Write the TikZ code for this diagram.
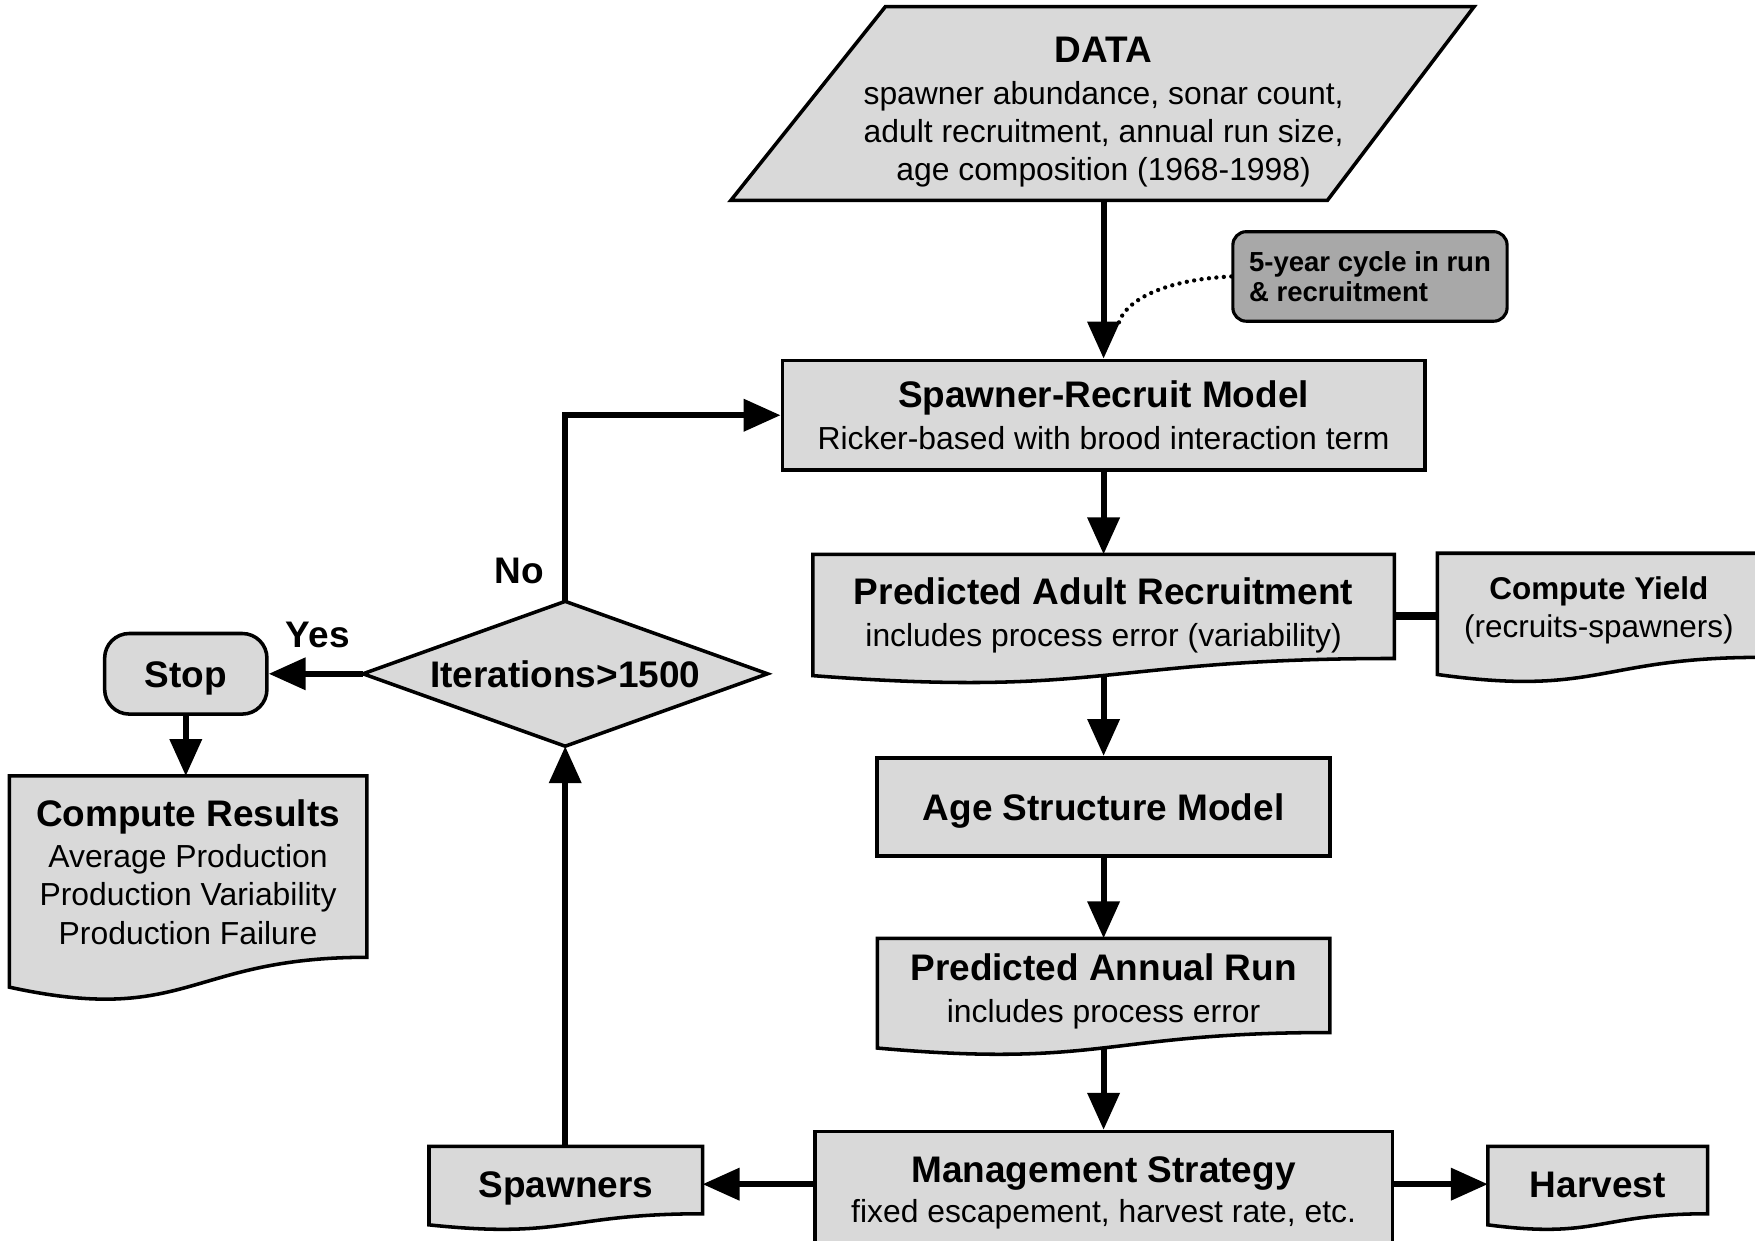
\documentclass[tikz,border=0pt]{standalone}
\usepackage{fontspec}
\setmainfont{Liberation Sans}
\usetikzlibrary{arrows.meta,calc,backgrounds}
\definecolor{boxgray}{gray}{0.85}
\definecolor{notegray}{gray}{0.66}
\newcommand\ttl[1]{{\fontsize{9.4}{10.2}\selectfont\bfseries #1}}
\newcommand\docshape[2]{%
  \draw[boxline] (#1.north west) -- (#1.north east) -- ($(#1.north east)+(0,{0.802*#2})$)
   .. controls ($(#1.north)+(0,{0.802*#2})$) and ($(#1.north)+(0,{1.107*#2})$) .. ($(#1.north west)+(0,{0.934*#2})$) -- cycle;
  \coordinate (#1-bot) at ($(#1.north)+(0,{0.933*#2})$);}
\begin{document}
\begin{tikzpicture}[x=0.1mm,y=-0.1mm,
  font=\fontsize{8.1}{9.7}\selectfont,
  box/.style={draw=black, line width=0.9pt, fill=boxgray, align=center, inner sep=0pt},
  boxline/.style={draw=black, line width=0.9pt, fill=boxgray},
  hold/.style={inner sep=0pt, align=center},
  capcenter/.style={text height=2.4mm, text depth=0pt},
  flow/.style={line width=1.5pt, -{Triangle[length=3.3mm,width=2.8mm]}},
  link/.style={line width=2pt},
  lbl/.style={font=\fontsize{9.4}{10.2}\selectfont\bfseries, inner sep=0pt},
  dots/.style={line width=1.1pt, dash pattern=on 0pt off 1.9pt, line cap=round}]
\path[use as bounding box] (0,0) rectangle (1568,1108);
\clip (0,0) rectangle (1568,1108);

% text holders and boxes
\node[hold] (data) at (986,100) {\ttl{DATA}\\[0.9pt]spawner abundance, sonar count,\\adult recruitment, annual run size,\\age composition (1968-1998)};
\coordinate (databot) at (986,179);
\node[draw, line width=0.8pt, rounded corners=1.2mm, fill=notegray, minimum width=24.5mm, minimum height=8mm, align=left, font=\fontsize{7}{7.7}\selectfont\bfseries, inner sep=0pt] (note) at (1224,247) {5-year cycle in run\\\& recruitment};
\coordinate (noteend) at (999,290);
\node[box, minimum width=57.4mm, minimum height=9.8mm] (sr) at (986,371) {\ttl{Spawner-Recruit Model}\\[0.9pt]Ricker-based with brood interaction term};
\node[hold, minimum width=51.8mm, minimum height=10.8mm] (par) at (986,550) {\ttl{Predicted Adult Recruitment}\\[0.9pt]includes process error (variability)};
\node[hold, minimum width=28.7mm, minimum height=10mm, font=\fontsize{8}{9.6}\selectfont] (cy) at (1428.5,545) {\textbf{Compute Yield}\\(recruits-spawners)};
\node[box, capcenter, minimum width=40.5mm, minimum height=8.8mm] (asm) at (986,721) {\ttl{Age Structure Model}};
\node[hold, minimum width=40.3mm, minimum height=9.4mm] (par2) at (986,886) {\ttl{Predicted Annual Run}\\[0.9pt]includes process error};
\node[box, minimum width=51.6mm, minimum height=11mm] (ms) at (986,1066) {\ttl{Management Strategy}\\[0.6pt]fixed escapement, harvest rate, etc.};
\node[hold, capcenter, minimum width=19.5mm, minimum height=6.6mm] (harv) at (1427.5,1058) {\ttl{Harvest}};
\node[hold, capcenter, minimum width=24.3mm, minimum height=6.6mm] (spw) at (505.5,1058) {\ttl{Spawners}};
\node[hold, minimum width=36mm, minimum height=12.8mm] (dia) at (505,602) {\ttl{Iterations>1500}};
\node[box, capcenter, rounded corners=2.2mm, minimum width=14.5mm, minimum height=7.2mm] (stop) at (166,602) {\ttl{Stop}};
\node[hold, minimum width=31.8mm, minimum height=17mm] (cr) at (168,779) {\ttl{Compute Results}\\[0.9pt]Average Production\\Production Variability\\Production Failure};
\node[lbl] (no) at (464,510) {No};
\node[lbl] (yes) at (284,567) {Yes};

% shapes behind text
\begin{pgfonlayer}{background}
\clip (0,0) rectangle (1568,1108);
\fill[white] (0,0) rectangle (1568,1108);
\draw[boxline] (791,6) -- (1317,6) -- (1186,179) -- (653,179) -- cycle;
\draw[boxline] (dia.north) -- (dia.east) -- (dia.south) -- (dia.west) -- cycle;
\docshape{par}{116}
\docshape{cy}{116}
\docshape{par2}{105}
\docshape{harv}{75}
\docshape{spw}{75}
\docshape{cr}{202}
\end{pgfonlayer}

% connectors
\draw[flow] (databot) -- (sr.north);
\draw[dots] (note.west) .. controls (1040,250) and (1005,268) .. (noteend);
\draw[flow] (sr.south) -- (sr.south |- par.north);
\draw[link] (par.east) -- (par.east -| cy.west);
\draw[flow] (par-bot) -- (par-bot |- asm.north);
\draw[flow] (asm.south) -- (asm.south |- par2.north);
\draw[flow] (par2-bot) -- (par2-bot |- ms.north);
\draw[flow] (ms.west |- spw.east) -- (spw.east);
\draw[flow] (ms.east |- harv.west) -- (harv.west);
\draw[flow] (dia.south |- spw.north) -- (dia.south);
\draw[flow] (dia.north) |- (sr.west);
\draw[flow] (dia.west) -- (stop.east);
\draw[flow] (stop.south) -- (stop.south |- cr.north);
\end{tikzpicture}
\end{document}
